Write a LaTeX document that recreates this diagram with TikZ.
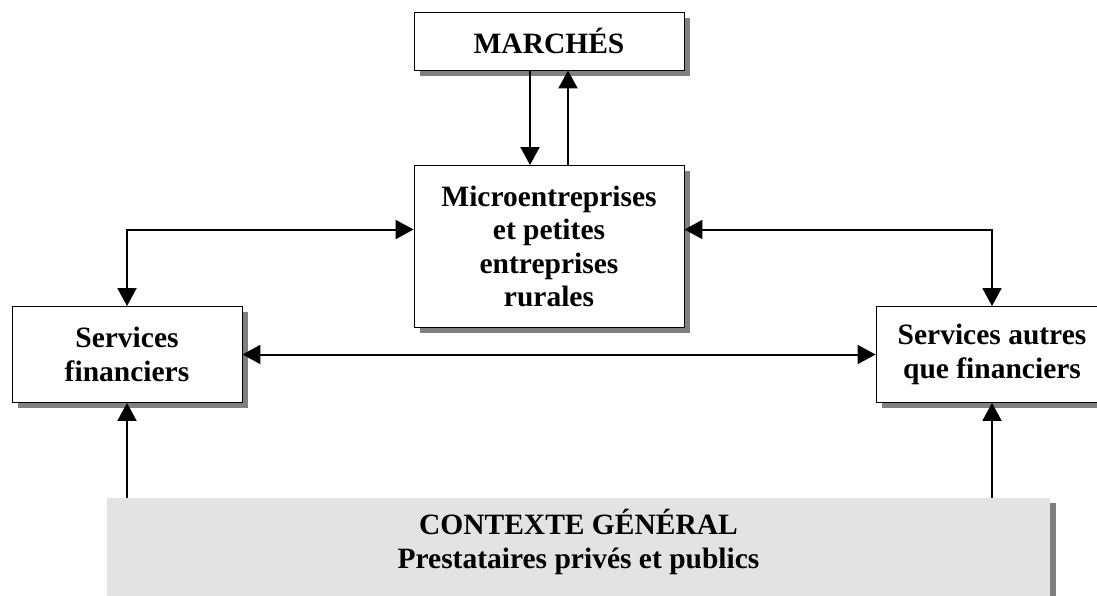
\documentclass[tikz,border=0pt]{standalone}
\usepackage{fontspec}
\setmainfont{Liberation Serif}
\usetikzlibrary{arrows.meta,shadows}
\begin{document}
\begin{tikzpicture}[x=1pt,y=-1pt,
  txt/.style={align=center, font=\fontsize{29.5}{33.5}\selectfont\bfseries},
  box/.style={txt, draw=black, line width=0.9pt, fill=white, inner sep=0pt, rectangle,
    drop shadow={shadow xshift=5.5pt, shadow yshift=-5.5pt, fill=black!50, opacity=1}},
  ctxbg/.style={fill=black!11, inner sep=0pt, rectangle},
  tip/.tip={Triangle[length=18pt,width=19pt]},
  link/.style={line width=2pt, -tip},
  dlink/.style={line width=2pt, tip-tip}]
\useasboundingbox (0,0) rectangle (1097,595);
\clip (0,0) rectangle (1097,595);
% boxes
\node[box, minimum width=270pt, minimum height=58pt] (mar) at (549,41) {MARCHÉS};
\node[box, minimum width=270pt, minimum height=162pt] (mic) at (549,246.5)
  {Microentreprises\\et petites\\entreprises\\rurales};
\node[box, minimum width=230pt, minimum height=96pt] (sf) at (127,354.5)
  {Services\\financiers};
\node[box, minimum width=232pt, minimum height=96pt] (sa) at (992,354.5)
  {Services autres\\que financiers};
% context
\fill[black!50] (1050,503) rectangle (1056,600);
\node[ctxbg, minimum width=943pt, minimum height=102pt] (ctxbg) at (578.5,549) {};
\node[txt] (ctx) at (578.5,542) {CONTEXTE GÉNÉRAL\\Prestataires privés et publics};
% connectors
\draw[link] ([xshift=-19pt]mar.south) -- ([xshift=-19pt]mic.north);
\draw[link] ([xshift=19pt]mic.north) -- ([xshift=19pt]mar.south);
\draw[dlink] ([yshift=17pt]mic.west) -| (sf.north);
\draw[dlink] ([yshift=17pt]mic.east) -| (sa.north);
\draw[dlink] (sf.east) -- (sa.west);
\draw[link] (sf |- ctxbg.north) -- (sf.south);
\draw[link] (sa |- ctxbg.north) -- (sa.south);
\end{tikzpicture}
\end{document}
